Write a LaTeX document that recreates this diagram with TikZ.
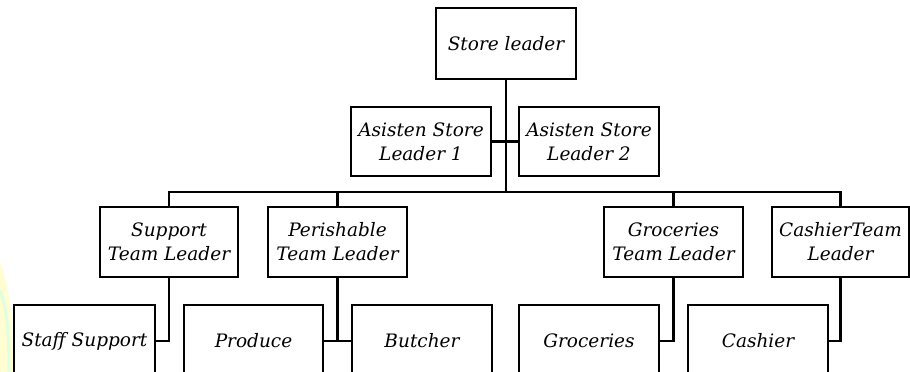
\documentclass[tikz,border=0pt]{standalone}
\usepackage{fontspec}
\setmainfont{DejaVu Serif}
\begin{document}
\begin{tikzpicture}[x=1pt,y=-1pt,
  box/.style={draw=black, line width=2.2pt, fill=white, align=center, inner sep=0pt,
    font=\fontsize{18.5}{24}\selectfont\itshape},
  conn/.style={draw=black, line width=2.2pt}]
\useasboundingbox (0,0) rectangle (910,372);
\clip (0,0) rectangle (910,372);
\fill[white] (0,0) rectangle (910,372);
% faint background decoration at left edge
\fill[yellow!18] (0,262) .. controls (9,285) and (13,320) .. (13,372) -- (0,372) -- cycle;
\draw[green!12, line width=3pt] (0,290) .. controls (6,305) and (9,330) .. (9,372);
% nodes
\node[box, minimum width=140, minimum height=71] (top) at (506,43.5) {Store leader};
\node[box, minimum width=140, minimum height=69] (as1) at (421,141.5) {Asisten Store\\Leader 1};
\node[box, minimum width=140, minimum height=69] (as2) at (589,141.5) {Asisten Store\\Leader 2};
\node[box, minimum width=138, minimum height=70] (sup) at (169,242) {Support\\Team Leader};
\node[box, minimum width=139, minimum height=70] (per) at (337.5,242) {Perishable\\Team Leader};
\node[box, minimum width=139, minimum height=70] (gro) at (673.5,242) {Groceries\\Team Leader};
\node[box, minimum width=137, minimum height=70] (cas) at (840.5,242) {CashierTeam\\Leader};
\node[box, minimum width=141, minimum height=72] (ss) at (84.5,341) {Staff Support};
\node[box, minimum width=139, minimum height=72] (pro) at (253.5,341) {Produce};
\node[box, minimum width=140, minimum height=72] (but) at (422,341) {Butcher};
\node[box, minimum width=140, minimum height=72] (grc) at (589,341) {Groceries};
\node[box, minimum width=140, minimum height=72] (csh) at (758,341) {Cashier};
\coordinate (bus) at (0,192);
% connectors
\draw[conn] (top.south) -- (top.south |- bus);
\draw[conn] (as1.east) -- (as2.west);
\draw[conn] (sup.north) -- (sup.north |- bus) -- (cas.north |- bus) -- (cas.north);
\draw[conn] (per.north) -- (per.north |- bus);
\draw[conn] (gro.north) -- (gro.north |- bus);
\draw[conn] (sup.south) |- (ss.east);
\draw[conn] (per.south) -- (per.south |- pro.east);
\draw[conn] (pro.east) -- (but.west);
\draw[conn] (gro.south) |- (grc.east);
\draw[conn] (cas.south) |- (csh.east);
\end{tikzpicture}
\end{document}
